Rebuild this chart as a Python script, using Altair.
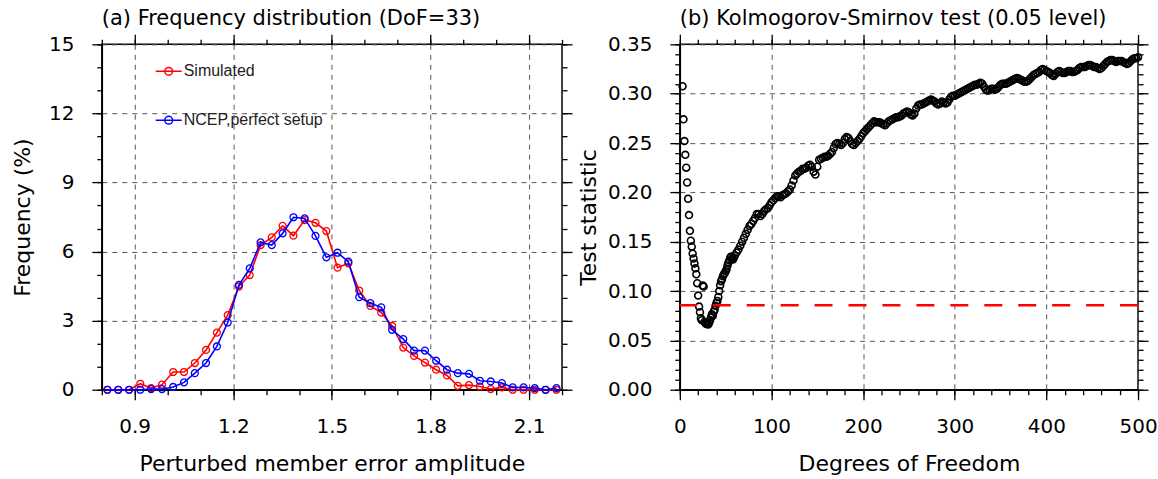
import altair as alt
import pandas as pd

# ---------------- panel (a): frequency distribution ----------------
amplitude = [0.817, 0.850, 0.883, 0.917, 0.950, 0.983, 1.017, 1.050, 1.083, 1.117,
             1.150, 1.183, 1.217, 1.250, 1.283, 1.317, 1.350, 1.383, 1.417, 1.450,
             1.483, 1.517, 1.550, 1.583, 1.617, 1.650, 1.683, 1.717, 1.750, 1.783,
             1.817, 1.850, 1.883, 1.917, 1.950, 1.983, 2.017, 2.050, 2.083, 2.117,
             2.150, 2.183]
simulated = [0.0, 0.0, 0.0, 0.26, 0.07, 0.22, 0.77, 0.77, 1.16, 1.73,
             2.48, 3.24, 4.48, 4.98, 6.28, 6.62, 7.12, 6.69, 7.37, 7.25,
             6.89, 5.30, 5.49, 4.31, 3.64, 3.35, 2.77, 1.83, 1.47, 1.18,
             0.87, 0.62, 0.17, 0.20, 0.14, 0.03, 0.10, 0.0, 0.0, 0.0,
             0.0, 0.0]
ncep = [0.0, 0.0, 0.0, 0.0, 0.03, 0.03, 0.12, 0.32, 0.72, 1.16,
        1.88, 2.92, 4.55, 5.27, 6.40, 6.28, 6.79, 7.49, 7.44, 6.68,
        5.75, 5.95, 5.56, 4.02, 3.76, 3.58, 2.60, 2.20, 1.70, 1.70,
        1.26, 0.87, 0.72, 0.69, 0.39, 0.36, 0.29, 0.10, 0.10, 0.07,
        0.0, 0.07]
series_names = ["Simulated", "NCEP,perfect setup"]
series_colors = ["#ff0000", "#0000ff"]

amp_major = [0.9, 1.2, 1.5, 1.8, 2.1]
amp_minor = [0.8, 0.9, 1.0, 1.1, 1.2, 1.3, 1.4, 1.5, 1.6, 1.7, 1.8, 1.9, 2.0, 2.1, 2.2]
freq_major = [0, 3, 6, 9, 12, 15]
freq_minor = [0, 1, 2, 3, 4, 5, 6, 7, 8, 9, 10, 11, 12, 13, 14, 15]

# ---------------- panel (b): K-S test statistic ----------------
dof = list(range(3, 61)) + list(range(62, 501, 2))
ks_stat = [
    0.3075, 0.274, 0.252, 0.238, 0.225, 0.210, 0.1935, 0.177, 0.161, 0.151,
    0.145, 0.138, 0.133, 0.128, 0.123, 0.117, 0.108, 0.0954, 0.0843, 0.0786,
    0.0725, 0.0705, 0.1055, 0.1045, 0.069, 0.0675, 0.0665, 0.067, 0.066, 0.068,
    0.0705, 0.0735, 0.0765, 0.075, 0.079, 0.081, 0.085, 0.088, 0.090, 0.094,
    0.100, 0.106, 0.110, 0.112, 0.115, 0.117, 0.118, 0.120, 0.122, 0.126,
    0.129, 0.131, 0.134, 0.135, 0.133, 0.132, 0.134, 0.136,
    0.139, 0.142, 0.146, 0.150, 0.154,
    0.158, 0.162, 0.166, 0.168, 0.171,
    0.174, 0.178, 0.178, 0.176, 0.178,
    0.181, 0.183, 0.184, 0.187, 0.190,
    0.192, 0.194, 0.196, 0.196, 0.195,
    0.197, 0.198, 0.199, 0.201, 0.203,
    0.207, 0.212, 0.217, 0.219, 0.221,
    0.222, 0.224, 0.224, 0.225, 0.227,
    0.228, 0.226, 0.221, 0.218, 0.226,
    0.233, 0.234, 0.235, 0.236, 0.236,
    0.237, 0.239, 0.241, 0.245, 0.249,
    0.250, 0.249, 0.248, 0.250, 0.254,
    0.256, 0.255, 0.252, 0.249, 0.248,
    0.250, 0.252, 0.254, 0.257, 0.260,
    0.262, 0.264, 0.266, 0.268, 0.270,
    0.272, 0.271, 0.271, 0.271, 0.270,
    0.269, 0.268, 0.270, 0.272, 0.273,
    0.274, 0.275, 0.276, 0.276, 0.277,
    0.278, 0.280, 0.281, 0.282, 0.281,
    0.279, 0.278, 0.280, 0.285, 0.288,
    0.289, 0.289, 0.290, 0.291, 0.292,
    0.293, 0.294, 0.293, 0.292, 0.290,
    0.289, 0.290, 0.292, 0.291, 0.290,
    0.291, 0.294, 0.297, 0.298, 0.298,
    0.299, 0.300, 0.301, 0.302, 0.303,
    0.304, 0.305, 0.306, 0.307, 0.308,
    0.309, 0.309, 0.310, 0.311, 0.310,
    0.307, 0.304, 0.303, 0.304, 0.305,
    0.305, 0.304, 0.305, 0.307, 0.309,
    0.310, 0.310, 0.310, 0.311, 0.312,
    0.313, 0.314, 0.315, 0.316, 0.315,
    0.314, 0.313, 0.312, 0.312, 0.313,
    0.315, 0.317, 0.319, 0.320, 0.321,
    0.322, 0.324, 0.325, 0.324, 0.323,
    0.322, 0.321, 0.319, 0.318, 0.320,
    0.322, 0.323, 0.322, 0.321, 0.321,
    0.322, 0.323, 0.323, 0.322, 0.322,
    0.323, 0.324, 0.326, 0.327, 0.327,
    0.327, 0.328, 0.329, 0.329, 0.328,
    0.327, 0.327, 0.326, 0.325, 0.326,
    0.328, 0.330, 0.332, 0.333, 0.334,
    0.334, 0.333, 0.332, 0.333, 0.333,
    0.333, 0.332, 0.331, 0.330, 0.331,
    0.333, 0.335, 0.336, 0.336, 0.337,
]
critical_value = [0.0855]

dof_major = [0, 100, 200, 300, 400, 500]
dof_minor = [0, 20, 40, 60, 80, 100, 120, 140, 160, 180, 200, 220, 240, 260, 280,
             300, 320, 340, 360, 380, 400, 420, 440, 460, 480, 500]
stat_major = [0.00, 0.05, 0.10, 0.15, 0.20, 0.25, 0.30, 0.35]
stat_minor = [0.00, 0.01, 0.02, 0.03, 0.04, 0.05, 0.06, 0.07, 0.08, 0.09, 0.10, 0.11,
              0.12, 0.13, 0.14, 0.15, 0.16, 0.17, 0.18, 0.19, 0.20, 0.21, 0.22, 0.23,
              0.24, 0.25, 0.26, 0.27, 0.28, 0.29, 0.30, 0.31, 0.32, 0.33, 0.34, 0.35]

FONT = "DejaVu Sans"


def labelled_axis(orient, values, fmt, title, title_pad, label_pad):
    return alt.Axis(
        orient=orient, values=values, format=fmt,
        tickSize=10, tickColor="black", tickWidth=1.3,
        domainColor="black", domainWidth=1.5,
        labels=True, labelFont=FONT, labelFontSize=20, labelColor="black",
        labelPadding=label_pad, labelOverlap=False, labelFlush=False,
        grid=True, gridColor="#555555", gridDash=[5, 5], gridWidth=1,
        title=title, titleFont=FONT, titleFontSize=22, titleFontWeight="normal",
        titleColor="black", titlePadding=title_pad,
    )


def tick_axis(orient, values, size):
    return alt.Axis(
        orient=orient, values=values, tickSize=size, tickColor="black", tickWidth=1.3,
        domain=False, labels=False, grid=False, title=None,
    )


def tick_layers(df, xfield, yfield, xs, ys, x_major, x_minor, y_major, y_minor):
    inv = alt.Chart(df).mark_point(opacity=0)
    minor_bl = inv.encode(x=alt.X(xfield, scale=xs, axis=tick_axis("bottom", x_minor, 5)),
                          y=alt.Y(yfield, scale=ys, axis=tick_axis("left", y_minor, 5)))
    major_tr = inv.encode(x=alt.X(xfield, scale=xs, axis=tick_axis("top", x_major, 10)),
                          y=alt.Y(yfield, scale=ys, axis=tick_axis("right", y_major, 10)))
    minor_tr = inv.encode(x=alt.X(xfield, scale=xs, axis=tick_axis("top", x_minor, 5)),
                          y=alt.Y(yfield, scale=ys, axis=tick_axis("right", y_minor, 5)))
    return [minor_bl, major_tr, minor_tr]


X_LABEL_PAD = 17
X_TITLE_PAD = 17

# ---------- left panel ----------
df_a = pd.DataFrame({
    "amp": amplitude + amplitude,
    "freq": simulated + ncep,
    "series": [series_names[0]] * len(amplitude) + [series_names[1]] * len(amplitude),
})
x_scale_a = alt.Scale(domain=[0.8, 2.2], nice=False, zero=False)
y_scale_a = alt.Scale(domain=[0, 15], nice=False)
color_scale = alt.Scale(domain=series_names, range=series_colors)

legend_symbol = "M-1,0L1,0M0.3,0A0.3,0.3,0,1,1,-0.3,0A0.3,0.3,0,1,1,0.3,0"
legend = alt.Legend(
    title=None, orient="none", legendX=53, legendY=13,
    symbolType=legend_symbol, symbolSize=676, symbolStrokeWidth=1.5,
    symbolFillColor="transparent",
    labelFont="Liberation Sans", labelFontSize=16, labelColor="#222222",
    labelOffset=1, rowPadding=27, padding=0,
)
point_def = alt.OverlayMarkDef(filled=False, shape="circle", size=48, strokeWidth=1.3)

base_a = alt.Chart(df_a)
red_layer = base_a.transform_filter(alt.datum.series == series_names[0]).mark_line(
    strokeWidth=1.6, point=point_def
).encode(
    x=alt.X("amp:Q", scale=x_scale_a,
            axis=labelled_axis("bottom", amp_major, ".1f", "Perturbed member error amplitude",
                               X_TITLE_PAD, X_LABEL_PAD)),
    y=alt.Y("freq:Q", scale=y_scale_a,
            axis=labelled_axis("left", freq_major, "d", "Frequency (%)", 14, 18)),
    color=alt.Color("series:N", scale=color_scale, legend=legend),
)
blue_layer = base_a.transform_filter(alt.datum.series == series_names[1]).mark_line(
    strokeWidth=1.6, point=point_def
).encode(
    x=alt.X("amp:Q", scale=x_scale_a, axis=None),
    y=alt.Y("freq:Q", scale=y_scale_a, axis=None),
    color=alt.Color("series:N", scale=color_scale, legend=legend),
)

left = alt.layer(
    red_layer, blue_layer,
    *tick_layers(df_a, "amp:Q", "freq:Q", x_scale_a, y_scale_a,
                 amp_major, amp_minor, freq_major, freq_minor)
).resolve_axis(x="independent", y="independent").properties(
    width=461, height=346,
    title=alt.Title("(a) Frequency distribution (DoF=33)", anchor="start", frame="group",
                    font=FONT, fontSize=21, fontWeight="normal", color="black", offset=5),
)

# ---------- right panel ----------
df_b = pd.DataFrame({"dof": dof, "stat": ks_stat})
df_crit = pd.DataFrame({"stat": critical_value})
x_scale_b = alt.Scale(domain=[0, 500], nice=False)
y_scale_b = alt.Scale(domain=[0, 0.35], nice=False)

pts = alt.Chart(df_b).mark_point(
    shape="circle", filled=False, color="black", size=48, strokeWidth=1.6, opacity=1
).encode(
    x=alt.X("dof:Q", scale=x_scale_b,
            axis=labelled_axis("bottom", dof_major, "d", "Degrees of Freedom",
                               X_TITLE_PAD, X_LABEL_PAD)),
    y=alt.Y("stat:Q", scale=y_scale_b,
            axis=labelled_axis("left", stat_major, ".2f", "Test statistic", 7, 18)),
)
crit = alt.Chart(df_crit).mark_rule(
    color="#ff0000", strokeWidth=2.5, strokeDash=[18, 16]
).encode(y=alt.Y("stat:Q", scale=y_scale_b, axis=None))

right = alt.layer(
    pts, crit,
    *tick_layers(df_b, "dof:Q", "stat:Q", x_scale_b, y_scale_b,
                 dof_major, dof_minor, stat_major, stat_minor)
).resolve_axis(x="independent", y="independent").properties(
    width=459, height=346,
    title=alt.Title("(b) Kolmogorov-Smirnov test (0.05 level)", anchor="start", frame="group",
                    font=FONT, fontSize=21, fontWeight="normal", color="black", offset=5),
)

chart = alt.hconcat(left, right, spacing=2).properties(
    padding={"left": 10, "top": 6, "right": 0, "bottom": 0},
    background="white",
).configure_view(stroke="black", strokeWidth=1.5)

chart.save("out.html", embed_options={"renderer": "svg", "actions": False})
